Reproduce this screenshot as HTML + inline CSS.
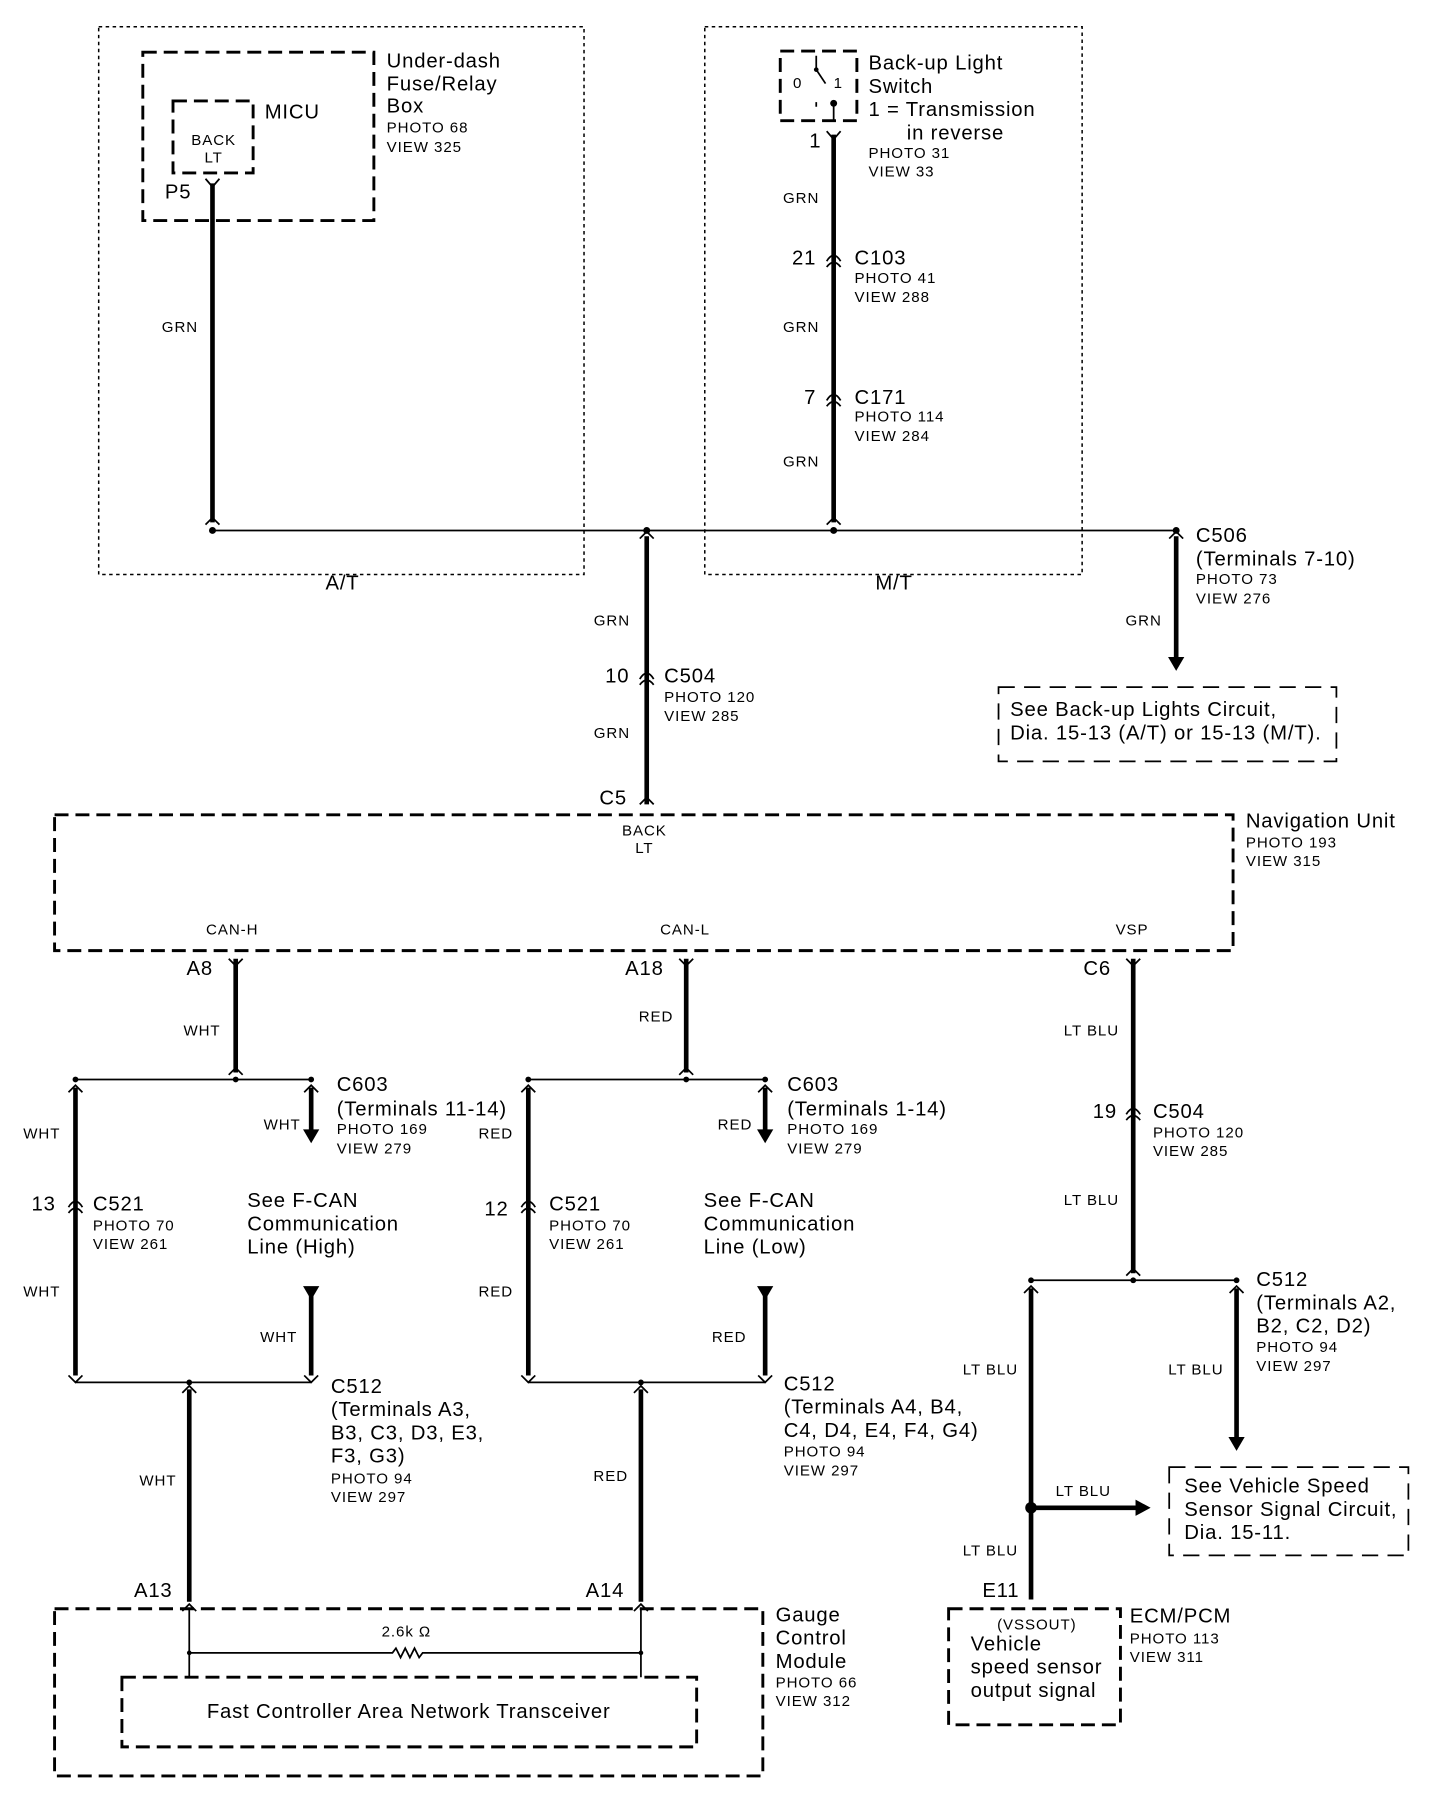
<!DOCTYPE html>
<html><head><meta charset="utf-8"><style>
html,body{margin:0;padding:0;background:#fff}
svg{display:block}
text{font-family:"Liberation Sans",sans-serif;fill:#000}
.L{font-size:17.5px;letter-spacing:0.7px}.S{font-size:13px;letter-spacing:0.8px}
.w{stroke:#000;stroke-width:4;fill:none}
.t{stroke:#000;stroke-width:1.5;fill:none}
.dot{stroke:#000;stroke-width:1.3;fill:none;stroke-dasharray:3 3}
.dsh{stroke:#000;stroke-width:2.5;fill:none;stroke-dasharray:12 6}
.dsh2{stroke:#000;stroke-width:1.5;fill:none;stroke-dasharray:14 8}
</style></head><body>
<svg width="1456" height="1820" viewBox="0 0 1254 1568" preserveAspectRatio="none" xmlns="http://www.w3.org/2000/svg">
<rect class="dot" x="85" y="23" width="418" height="472"/>
<text class="L" x="295" y="508" text-anchor="middle">A/T</text>
<rect class="dot" x="607" y="23" width="325" height="472"/>
<text class="L" x="770" y="508" text-anchor="middle">M/T</text>

<rect class="dsh" x="123" y="45" width="199" height="145"/>
<text class="L" x="333" y="58">Under-dash</text><text class="L" x="333" y="78">Fuse/Relay</text><text class="L" x="333" y="97">Box</text>
<text class="S" x="333" y="114">PHOTO 68</text><text class="S" x="333" y="131">VIEW 325</text>
<rect class="dsh" x="149" y="87" width="69" height="62"/>
<text class="L" x="228" y="102">MICU</text>
<text class="S" x="184" y="125" text-anchor="middle">BACK</text><text class="S" x="184" y="140" text-anchor="middle">LT</text>
<text class="L" x="142" y="171">P5</text>
<line class="w" x1="183" y1="158" x2="183" y2="450"/>
<path class="t" d="M177 154 L183 161 L189 154 M177 452 L183 446 L189 452"/>
<text class="S" x="155" y="286" text-anchor="middle">GRN</text>

<line class="t" x1="183" y1="457" x2="1013" y2="457"/>
<circle cx="183" cy="457" r="3"/><circle cx="557" cy="457" r="3"/><circle cx="718" cy="457" r="3"/><circle cx="1013" cy="457" r="3"/>

<rect class="dsh" x="672" y="44" width="66" height="60"/>
<text class="S" x="683" y="76">0</text><text class="S" x="718" y="76">1</text>
<path class="t" d="M703 48 L703 60 L711 72 M703 88 L703 92 M718 88 L718 104"/>
<circle cx="718" cy="89" r="3"/><circle cx="703" cy="60" r="2"/>
<text class="L" x="748" y="60">Back-up Light</text><text class="L" x="748" y="80">Switch</text><text class="L" x="748" y="100">1 = Transmission</text><text class="L" x="781" y="120">in reverse</text>
<text class="S" x="748" y="136">PHOTO 31</text><text class="S" x="748" y="152">VIEW 33</text>
<line class="w" x1="718" y1="116" x2="718" y2="450"/>
<path class="t" d="M712 113 L718 120 L724 113 M712 452 L718 446 L724 452"/>
<path class="t" d="M712 225 Q718 215 724 225 M712 230 Q718 222 724 230 M712 345 Q718 335 724 345 M712 350 Q718 342 724 350"/>
<text class="L" x="697" y="127">1</text>
<text class="S" x="690" y="175" text-anchor="middle">GRN</text>
<text class="L" x="703" y="228" text-anchor="end">21</text><text class="L" x="736" y="228">C103</text><text class="S" x="736" y="244">PHOTO 41</text><text class="S" x="736" y="260">VIEW 288</text>
<text class="S" x="690" y="286" text-anchor="middle">GRN</text>
<text class="L" x="703" y="348" text-anchor="end">7</text><text class="L" x="736" y="348">C171</text><text class="S" x="736" y="363">PHOTO 114</text><text class="S" x="736" y="380">VIEW 284</text>
<text class="S" x="690" y="402" text-anchor="middle">GRN</text>

<line class="w" x1="557" y1="462" x2="557" y2="693"/>
<path class="t" d="M551 464 L557 458 L563 464 M551 585 Q557 575 563 585 M551 590 Q557 582 563 590 M551 693 L557 687 L563 693"/>
<text class="S" x="527" y="539" text-anchor="middle">GRN</text>
<text class="L" x="542" y="588" text-anchor="end">10</text><text class="L" x="572" y="588">C504</text><text class="S" x="572" y="605">PHOTO 120</text><text class="S" x="572" y="621">VIEW 285</text>
<text class="S" x="527" y="636" text-anchor="middle">GRN</text>
<text class="L" x="540" y="693" text-anchor="end">C5</text>

<line class="w" x1="1013" y1="462" x2="1013" y2="568"/>
<polygon points="1006,566 1020,566 1013,578"/>
<path class="t" d="M1007 464 L1013 458 L1019 464"/>
<text class="L" x="1030" y="467">C506</text><text class="L" x="1030" y="487">(Terminals 7-10)</text><text class="S" x="1030" y="503">PHOTO 73</text><text class="S" x="1030" y="520">VIEW 276</text>
<text class="S" x="985" y="539" text-anchor="middle">GRN</text>
<rect class="dsh2" x="860" y="592" width="291" height="64"/>
<text class="L" x="870" y="617">See Back-up Lights Circuit,</text><text class="L" x="870" y="637">Dia. 15-13 (A/T) or 15-13 (M/T).</text>

<rect class="dsh" x="47" y="702" width="1015" height="117"/>
<text class="S" x="555" y="720" text-anchor="middle">BACK</text><text class="S" x="555" y="735" text-anchor="middle">LT</text>
<text class="L" x="1073" y="713">Navigation Unit</text><text class="S" x="1073" y="730">PHOTO 193</text><text class="S" x="1073" y="746">VIEW 315</text>
<text class="S" x="200" y="805" text-anchor="middle">CAN-H</text><text class="S" x="590" y="805" text-anchor="middle">CAN-L</text><text class="S" x="975" y="805" text-anchor="middle">VSP</text>

<text class="L" x="172" y="840" text-anchor="middle">A8</text>
<line class="w" x1="203" y1="826" x2="203" y2="924"/>
<path class="t" d="M197 826 L203 832 L209 826 M197 926 L203 920 L209 926"/>
<text class="S" x="174" y="892" text-anchor="middle">WHT</text>
<line class="t" x1="65" y1="930" x2="268" y2="930"/>
<circle cx="65" cy="930" r="2.5"/><circle cx="203" cy="930" r="2.5"/><circle cx="268" cy="930" r="2.5"/>
<line class="w" x1="65" y1="937" x2="65" y2="1185"/>
<path class="t" d="M59 941 L65 935 L71 941 M59 1040 Q65 1030 71 1040 M59 1045 Q65 1037 71 1045 M59 1185 L65 1191 L71 1185"/>
<line class="w" x1="268" y1="937" x2="268" y2="975"/><polygon points="261,973 275,973 268,985"/>
<path class="t" d="M262 941 L268 935 L274 941"/>
<text class="S" x="36" y="981" text-anchor="middle">WHT</text>
<text class="L" x="48" y="1043" text-anchor="end">13</text><text class="L" x="80" y="1043">C521</text><text class="S" x="80" y="1060">PHOTO 70</text><text class="S" x="80" y="1076">VIEW 261</text>
<text class="S" x="36" y="1117" text-anchor="middle">WHT</text>
<text class="L" x="290" y="940">C603</text><text class="L" x="290" y="961">(Terminals 11-14)</text><text class="S" x="290" y="977">PHOTO 169</text><text class="S" x="290" y="994">VIEW 279</text>
<text class="S" x="243" y="973" text-anchor="middle">WHT</text>
<text class="L" x="213" y="1040">See F-CAN</text><text class="L" x="213" y="1060">Communication</text><text class="L" x="213" y="1080">Line (High)</text>
<polygon points="261,1108 275,1108 268,1120"/><line class="w" x1="268" y1="1110" x2="268" y2="1185"/>
<path class="t" d="M262 1185 L268 1191 L274 1185"/>
<text class="S" x="240" y="1156" text-anchor="middle">WHT</text>
<line class="t" x1="65" y1="1191" x2="268" y2="1191"/><circle cx="163" cy="1191" r="2.5"/>
<line class="w" x1="163" y1="1197" x2="163" y2="1380"/>
<path class="t" d="M157 1200 L163 1194 L169 1200 M157 1388 L163 1382 L169 1388"/>
<text class="S" x="136" y="1280" text-anchor="middle">WHT</text>
<text class="L" x="132" y="1376" text-anchor="middle">A13</text>
<text class="L" x="285" y="1200">C512</text><text class="L" x="285" y="1220">(Terminals A3,</text><text class="L" x="285" y="1240">B3, C3, D3, E3,</text><text class="L" x="285" y="1260">F3, G3)</text><text class="S" x="285" y="1278">PHOTO 94</text><text class="S" x="285" y="1294">VIEW 297</text>

<text class="L" x="555" y="840" text-anchor="middle">A18</text>
<line class="w" x1="591" y1="826" x2="591" y2="924"/>
<path class="t" d="M585 826 L591 832 L597 826 M585 926 L591 920 L597 926"/>
<text class="S" x="565" y="880" text-anchor="middle">RED</text>
<line class="t" x1="455" y1="930" x2="659" y2="930"/>
<circle cx="455" cy="930" r="2.5"/><circle cx="591" cy="930" r="2.5"/><circle cx="659" cy="930" r="2.5"/>
<line class="w" x1="455" y1="937" x2="455" y2="1185"/>
<path class="t" d="M449 941 L455 935 L461 941 M449 1040 Q455 1030 461 1040 M449 1045 Q455 1037 461 1045 M449 1185 L455 1191 L461 1185"/>
<line class="w" x1="659" y1="937" x2="659" y2="975"/><polygon points="652,973 666,973 659,985"/>
<path class="t" d="M653 941 L659 935 L665 941"/>
<text class="S" x="427" y="981" text-anchor="middle">RED</text>
<text class="L" x="438" y="1047" text-anchor="end">12</text><text class="L" x="473" y="1043">C521</text><text class="S" x="473" y="1060">PHOTO 70</text><text class="S" x="473" y="1076">VIEW 261</text>
<text class="S" x="427" y="1117" text-anchor="middle">RED</text>
<text class="L" x="678" y="940">C603</text><text class="L" x="678" y="961">(Terminals 1-14)</text><text class="S" x="678" y="977">PHOTO 169</text><text class="S" x="678" y="994">VIEW 279</text>
<text class="S" x="633" y="973" text-anchor="middle">RED</text>
<text class="L" x="606" y="1040">See F-CAN</text><text class="L" x="606" y="1060">Communication</text><text class="L" x="606" y="1080">Line (Low)</text>
<polygon points="652,1108 666,1108 659,1120"/><line class="w" x1="659" y1="1110" x2="659" y2="1185"/>
<path class="t" d="M653 1185 L659 1191 L665 1185"/>
<text class="S" x="628" y="1156" text-anchor="middle">RED</text>
<line class="t" x1="455" y1="1191" x2="659" y2="1191"/><circle cx="552" cy="1191" r="2.5"/>
<line class="w" x1="552" y1="1197" x2="552" y2="1380"/>
<path class="t" d="M546 1200 L552 1194 L558 1200 M546 1388 L552 1382 L558 1388"/>
<text class="S" x="526" y="1276" text-anchor="middle">RED</text>
<text class="L" x="521" y="1376" text-anchor="middle">A14</text>
<text class="L" x="675" y="1198">C512</text><text class="L" x="675" y="1218">(Terminals A4, B4,</text><text class="L" x="675" y="1238">C4, D4, E4, F4, G4)</text><text class="S" x="675" y="1255">PHOTO 94</text><text class="S" x="675" y="1271">VIEW 297</text>

<text class="L" x="945" y="840" text-anchor="middle">C6</text>
<line class="w" x1="976" y1="826" x2="976" y2="1097"/>
<path class="t" d="M970 826 L976 832 L982 826 M970 960 Q976 950 982 960 M970 965 Q976 957 982 965 M970 1099 L976 1093 L982 1099"/>
<text class="S" x="940" y="892" text-anchor="middle">LT BLU</text>
<text class="L" x="962" y="963" text-anchor="end">19</text><text class="L" x="993" y="963">C504</text><text class="S" x="993" y="980">PHOTO 120</text><text class="S" x="993" y="996">VIEW 285</text>
<text class="S" x="940" y="1038" text-anchor="middle">LT BLU</text>
<line class="t" x1="888" y1="1103" x2="1065" y2="1103"/>
<circle cx="888" cy="1103" r="2.5"/><circle cx="976" cy="1103" r="2.5"/><circle cx="1065" cy="1103" r="2.5"/>
<line class="w" x1="1065" y1="1110" x2="1065" y2="1240"/><polygon points="1058,1238 1072,1238 1065,1250"/>
<path class="t" d="M1059 1114 L1065 1108 L1071 1114"/>
<text class="L" x="1082" y="1108">C512</text><text class="L" x="1082" y="1128">(Terminals A2,</text><text class="L" x="1082" y="1148">B2, C2, D2)</text><text class="S" x="1082" y="1165">PHOTO 94</text><text class="S" x="1082" y="1181">VIEW 297</text>
<text class="S" x="1030" y="1184" text-anchor="middle">LT BLU</text>
<line class="w" x1="888" y1="1110" x2="888" y2="1378"/>
<path class="t" d="M882 1114 L888 1108 L894 1114"/>
<text class="S" x="853" y="1184" text-anchor="middle">LT BLU</text>
<circle cx="888" cy="1299" r="5"/>
<line class="w" x1="888" y1="1299" x2="980" y2="1299"/><polygon points="978,1292 978,1306 991,1299"/>
<text class="S" x="933" y="1289" text-anchor="middle">LT BLU</text>
<text class="S" x="853" y="1340" text-anchor="middle">LT BLU</text>
<text class="L" x="862" y="1376" text-anchor="middle">E11</text>
<rect class="dsh2" x="1007" y="1264" width="206" height="76"/>
<text class="L" x="1020" y="1286">See Vehicle Speed</text><text class="L" x="1020" y="1306">Sensor Signal Circuit,</text><text class="L" x="1020" y="1326">Dia. 15-11.</text>
<rect class="dsh" x="817" y="1386" width="148" height="100"/>
<text class="S" x="893" y="1404" text-anchor="middle">(VSSOUT)</text>
<text class="L" x="836" y="1422">Vehicle</text><text class="L" x="836" y="1442">speed sensor</text><text class="L" x="836" y="1462">output signal</text>
<text class="L" x="973" y="1398">ECM/PCM</text><text class="S" x="973" y="1416">PHOTO 113</text><text class="S" x="973" y="1432">VIEW 311</text>

<rect class="dsh" x="47" y="1386" width="610" height="144"/>
<text class="L" x="668" y="1397">Gauge</text><text class="L" x="668" y="1417">Control</text><text class="L" x="668" y="1437">Module</text><text class="S" x="668" y="1454">PHOTO 66</text><text class="S" x="668" y="1470">VIEW 312</text>
<path class="t" d="M163 1386 L163 1445 M552 1386 L552 1445 M163 1424 L338 1424 L341 1420 L345 1428 L349 1420 L353 1428 L357 1420 L361 1428 L364 1424 L552 1424"/>
<circle cx="163" cy="1424" r="2"/><circle cx="552" cy="1424" r="2"/>
<text class="S" x="350" y="1410" text-anchor="middle">2.6k Ω</text>
<rect class="dsh" x="105" y="1445" width="495" height="60"/>
<text class="L" x="352" y="1480" text-anchor="middle">Fast Controller Area Network Transceiver</text>
</svg>
</body></html>
